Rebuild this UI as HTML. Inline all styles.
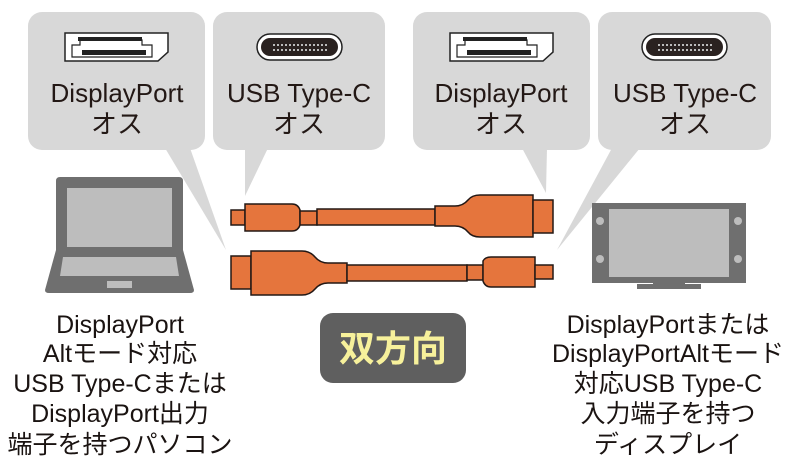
<!DOCTYPE html>
<html><head><meta charset="utf-8"><style>
body{margin:0;background:#fff;}
svg{display:block}
text{font-family:"Liberation Sans","Noto Sans CJK JP",sans-serif;}
</style></head><body>
<svg width="800" height="471" viewBox="0 0 800 471">
<g fill="#d8d8d8">
<rect x="28" y="12" width="177" height="138" rx="14"/>
<polygon points="165,148 190,148 226,250"/>
<rect x="213" y="12" width="172" height="138" rx="14"/>
<polygon points="245,148 268,148 245,196"/>
<rect x="413" y="12" width="177" height="138" rx="14"/>
<polygon points="522,148 547,148 546,193"/>
<rect x="598" y="12" width="173" height="138" rx="14"/>
<polygon points="612,148 640,148 557,250"/>
</g>
<g id="dp">
<path d="M65,33 H168 V52 L158,61 H65 Z" fill="#fff" stroke="#222" stroke-width="1.5"/>
<path d="M72,45 H80 V40 H142 V45 H152 V57 H72 Z" fill="none" stroke="#222" stroke-width="1.2"/>
<g fill="#222">
<rect x="78" y="37" width="64" height="4"/>
<rect x="82" y="50" width="64" height="5"/>
</g>
</g>
<use href="#dp" x="385" y="0"/>
<g id="uc">
<rect x="257" y="34" width="85" height="26" rx="13" fill="#fff" stroke="#222" stroke-width="1.5"/>
<rect x="261" y="38" width="77" height="18" rx="9" fill="#2a2220"/>
<g stroke="#bbb" stroke-width="2" stroke-dasharray="2,2"><line x1="273" y1="45" x2="327" y2="45"/><line x1="273" y1="50" x2="327" y2="50"/></g>
</g>
<use href="#uc" x="385" y="0"/>
<g font-size="26" fill="#231815" text-anchor="middle">
<text x="117" y="102">DisplayPort</text><text x="117" y="133">オス</text>
<text x="299" y="102">USB Type-C</text><text x="299" y="133">オス</text>
<text x="501" y="102">DisplayPort</text><text x="501" y="133">オス</text>
<text x="685" y="102">USB Type-C</text><text x="685" y="133">オス</text>
</g>
<path d="M60,177 H179 Q183,177 183,181 V250 H56 V181 Q56,177 60,177Z" fill="#6f6f6f"/>
<rect x="67" y="188" width="105" height="59" fill="#bdbdbd"/>
<path d="M56,250 H183 L194,290 Q194,293 190,293 H49 Q45,293 45,290Z" fill="#6f6f6f"/>
<polygon points="63,257 176,257 179,276 60,276" fill="#bdbdbd"/>
<rect x="107" y="281" width="25" height="7" fill="#bdbdbd"/>
<rect x="592" y="203" width="154" height="80" fill="#6f6f6f"/>
<rect x="609" y="209" width="120" height="68" fill="#bdbdbd"/>
<g fill="#bdbdbd"><circle cx="600" cy="221" r="4"/><circle cx="738" cy="221" r="4"/><circle cx="600" cy="259" r="4"/><circle cx="738" cy="259" r="4"/></g>
<rect x="653" y="282" width="32" height="3" fill="#6f6f6f"/>
<rect x="637" y="284" width="64" height="5" fill="#6f6f6f"/>
<g fill="#e5753d" stroke="#231815" stroke-width="1.5">
<rect x="231" y="210" width="14" height="15"/>
<path d="M245,204 H292 Q298,204 300,210 V225 Q298,231 292,231 H245Z"/>
<rect x="300" y="211" width="17" height="14"/>
<rect x="317" y="209" width="118" height="16"/>
<path d="M435,206 H455 Q463,206 468,200 Q472,195 480,195 H533 V237 H480 Q472,237 468,232 Q463,226 455,226 H435Z"/>
<rect x="533" y="200" width="20" height="33"/>
<rect x="231" y="256" width="20" height="33"/>
<path d="M251,251 H302 Q310,251 315,257 Q320,263 328,263 H347 V283 H328 Q320,283 315,289 Q310,295 302,295 H251Z"/>
<rect x="347" y="265" width="120" height="16"/>
<rect x="467" y="265" width="16" height="15"/>
<path d="M483,261 Q485,257 491,257 H535 V287 H491 Q485,287 483,281Z"/>
<rect x="535" y="265" width="18" height="14"/>
</g>
<rect x="320" y="313" width="146" height="70" rx="13" fill="#5f5f5f"/>
<text x="393" y="361" font-size="36" font-weight="bold" fill="#f7f19b" text-anchor="middle">双方向</text>
<g font-size="25" fill="#1a1311" text-anchor="middle">
<text x="120" y="333">DisplayPort</text>
<text x="120" y="362">Altモード対応</text>
<text x="120" y="392">USB Type-Cまたは</text>
<text x="120" y="422">DisplayPort出力</text>
<text x="120" y="453">端子を持つパソコン</text>
<text x="668" y="333">DisplayPortまたは</text>
<text x="668" y="362">DisplayPortAltモード</text>
<text x="668" y="392">対応USB Type-C</text>
<text x="668" y="422">入力端子を持つ</text>
<text x="668" y="453">ディスプレイ</text>
</g>
</svg>
</body></html>
